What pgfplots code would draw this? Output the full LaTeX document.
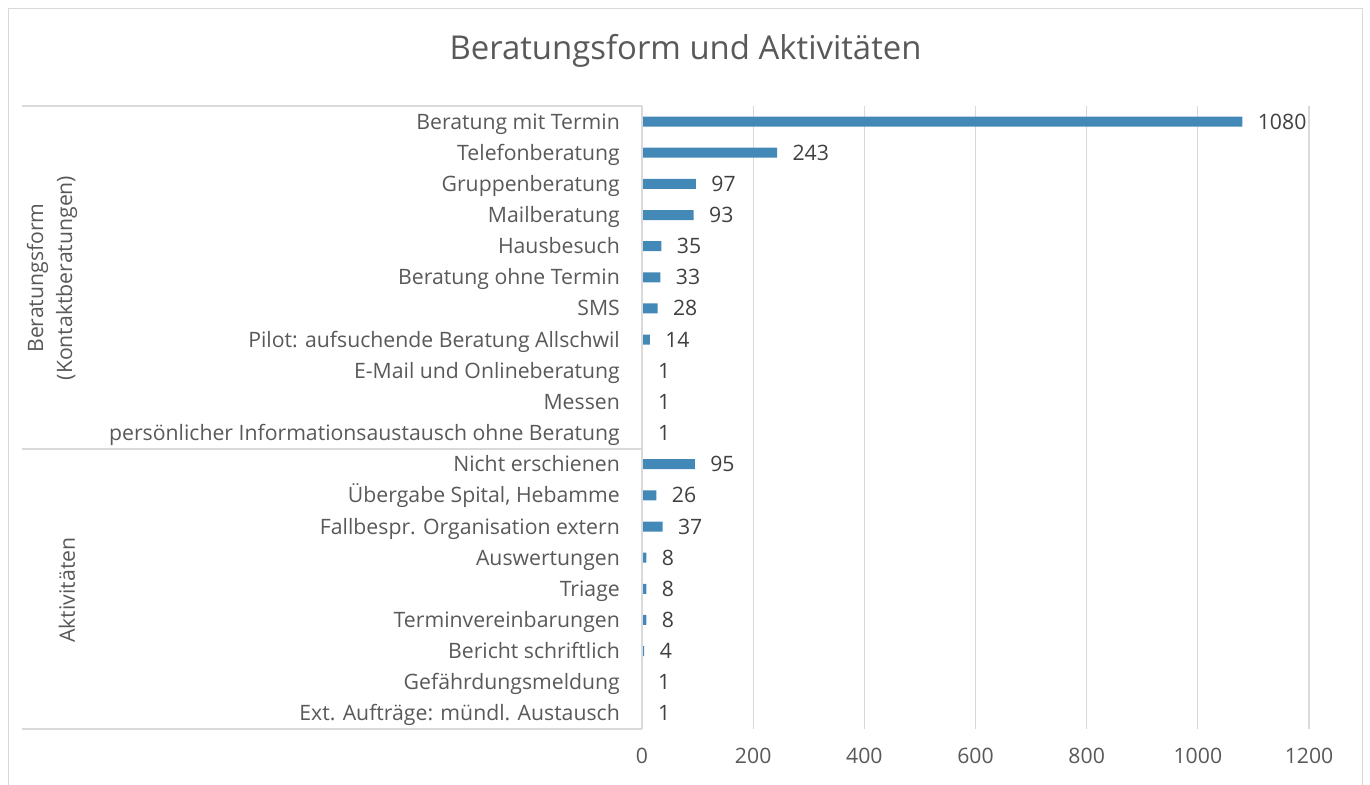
\documentclass[border=0pt]{standalone}
\usepackage{pgfplots}
\pgfplotsset{compat=1.18}
\usepackage{fontspec}
\setmainfont{Open Sans}
\definecolor{barcol}{HTML}{4389B8}
\definecolor{gridcol}{HTML}{D9D9D9}
\definecolor{txtcol}{HTML}{595959}
\definecolor{valcol}{HTML}{404040}
\begin{document}
\begin{tikzpicture}[x=1bp,y=1bp]
\path[use as bounding box] (0,0) rectangle (1370,-784);
\draw[gridcol, line width=1.5bp] (8.5,-800) -- (8.5,-8.5) -- (1362.5,-8.5) -- (1362.5,-800);
\node[text=txtcol, font=\fontsize{33}{39}\selectfont] at (685.5,-51) {Beratungsform und Aktivitäten};
\begin{axis}[
  at={(642bp,-729bp)}, anchor=south west,
  scale only axis, width=667bp, height=623bp,
  xmin=0, xmax=1200, ymin=-0.5, ymax=19.5,
  y dir=reverse,
  xbar, bar width=10bp,
  xtick={0,200,...,1200},
  ytick={0,...,19},
  yticklabels={Beratung mit Termin, Telefonberatung, Gruppenberatung, Mailberatung, Hausbesuch, Beratung ohne Termin, SMS, Pilot: aufsuchende Beratung Allschwil, E-Mail und Onlineberatung, Messen, persönlicher Informationsaustausch ohne Beratung, Nicht erschienen, {Übergabe Spital, Hebamme}, Fallbespr. Organisation extern, Auswertungen, Triage, Terminvereinbarungen, Bericht schriftlich, Gefährdungsmeldung, Ext. Aufträge: mündl. Austausch},
  xmajorgrids, grid style={gridcol, line width=1.2bp},
  axis line style={draw=none},
  major tick length=0pt,
  /pgf/number format/assume math mode=true,
  /pgf/number format/1000 sep={},
  tick label style={font=\fontsize{21.3}{25}\selectfont, text=txtcol},
  yticklabel style={anchor=east, inner sep=0pt, xshift=-22bp, yshift=-5bp, text height=0.7em, text depth=0.2em},
  xticklabel style={anchor=north, inner sep=0pt, yshift=-19bp},
  nodes near coords,
  every node near coord/.append style={font=\fontsize{21.3}{25}\selectfont, text=valcol, anchor=west, xshift=12bp, yshift=-5bp, text height=0.7em, text depth=0.2em, /pgf/number format/1000 sep={}},
  clip=false,
]
\addplot[draw=none, fill=barcol] coordinates {
(1080,0) (243,1) (97,2) (93,3) (35,4) (33,5) (28,6) (14,7) (1,8) (1,9) (1,10)
(95,11) (26,12) (37,13) (8,14) (8,15) (8,16) (4,17) (1,18) (1,19)
};
\end{axis}
\draw[gridcol, line width=1.2bp] (22,-106) -- (642,-106);
\draw[gridcol, line width=1.2bp] (22,-449) -- (642,-449);
\draw[gridcol, line width=1.2bp] (22,-729) -- (642,-729);
\draw[gridcol, line width=1.2bp] (642,-106) -- (642,-729);
\node[rotate=90, align=center, text=txtcol, font=\fontsize{21.3}{29}\selectfont] at (52,-278) {Beratungsform\\(Kontaktberatungen)};
\node[rotate=90, text=txtcol, font=\fontsize{21.3}{25}\selectfont] at (67,-590) {Aktivitäten};
\end{tikzpicture}
\end{document}
